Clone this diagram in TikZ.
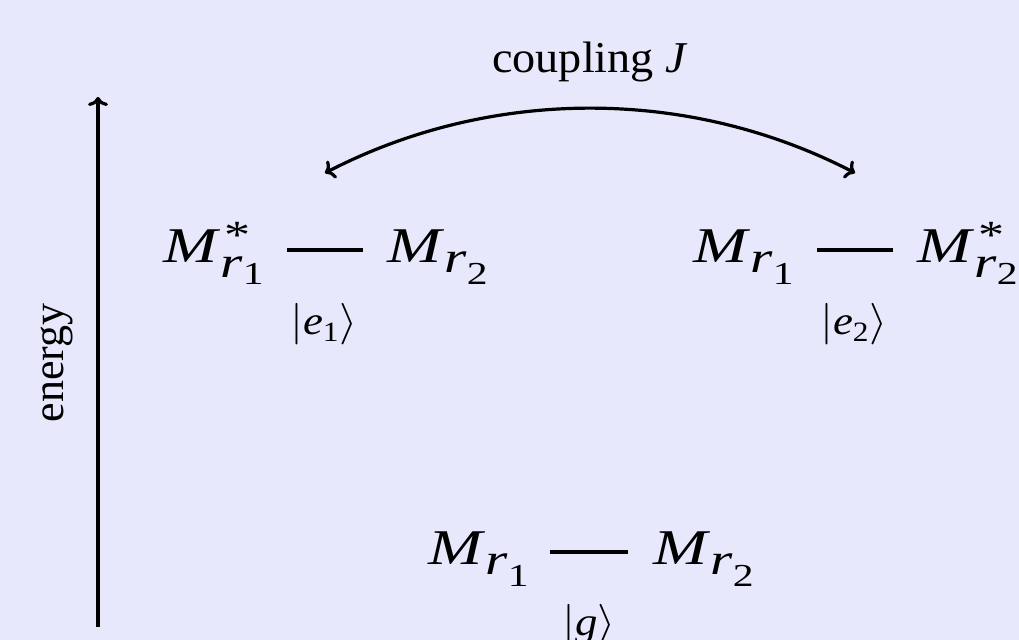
\documentclass[tikz,border=0pt]{standalone}
\usepackage{fontspec}
\setmainfont{Liberation Serif}
\usepackage{graphicx}
\usepackage{amsmath}
\DeclareMathSizes{20}{20}{14}{10}
\usetikzlibrary{arrows.meta}
\definecolor{bg}{HTML}{E8E8FC}
\newcommand{\rsub}[2]{\raisebox{#2}{\fontsize{22}{26}\selectfont\textit{r}\raisebox{#1}{\fontsize{16}{19}\selectfont}}}
\newcommand{\Mpl}[1]{\scalebox{1.3}[1]{\textit{M}\raisebox{-5pt}{\fontsize{22}{26}\selectfont\textit{r}\raisebox{-6pt}{\fontsize{16}{19}\selectfont #1}}}}
\newcommand{\Mst}[1]{\scalebox{1.3}[1]{\textit{M}\rlap{\hspace{1.5pt}\raisebox{7pt}{\fontsize{20}{24}\selectfont *}}\raisebox{-7.5pt}{\fontsize{22}{26}\selectfont\textit{r}\raisebox{-3.5pt}{\fontsize{16}{19}\selectfont #1}}}}
\newcommand{\kt}[1]{\scalebox{1.12}[1]{$|#1\rangle$}}
\begin{document}
\begin{tikzpicture}[x=0.5pt,y=-0.5pt,
  state/.style={inner sep=0pt, anchor=base west, font=\fontsize{25}{30}\selectfont},
  lbl/.style={inner sep=0pt, anchor=base, font=\fontsize{20}{24}\selectfont},
  txt/.style={inner sep=0pt, font=\fontsize{22}{26}\selectfont},
  bond/.style={line width=1.8pt},
  conn/.style={line width=1.6pt, arrows={To[length=4.5pt,width=10pt]-To[length=4.5pt,width=10pt]}},
  axis/.style={line width=1.6pt, arrows={-To[length=4.5pt,width=10pt]}}
]
\useasboundingbox (0,0) rectangle (1019,640);
\fill[bg] (0,0) rectangle (1019,640);

% energy axis
\coordinate (eb) at (98,627);
\coordinate (et) at (98,97);
\draw[axis] (eb) -- (et);
\node[txt, rotate=90] (energy) at (57,363) {energy};

% coupling
\node[txt, anchor=base] (coup) at (590,73) {\scalebox{1.05}[1]{coupling \textit{J}}};
\coordinate (jl) at (325,173);
\coordinate (jr) at (855,173);
\draw[conn] (jl) .. controls +(166,-86) and +(-166,-86) .. (jr);

% excited state e1
\node[state] (A1) at (163,263) {\Mst{1}};
\node[state] (A2) at (387,263) {\Mpl{2}};
\draw[bond] ([xshift=-50pt,yshift=6.5pt]A2.base west) -- ([xshift=-12pt,yshift=6.5pt]A2.base west);
\node[lbl] (e1) at (324,335) {\kt{\text{\textit{e}}_{\text{1}}}};

% excited state e2
\node[state] (B1) at (693,263) {\Mpl{1}};
\node[state] (B2) at (917,263) {\Mst{2}};
\draw[bond] ([xshift=-50pt,yshift=6.5pt]B2.base west) -- ([xshift=-12pt,yshift=6.5pt]B2.base west);
\node[lbl] (e2) at (854,335) {\kt{\text{\textit{e}}_{\text{2}}}};

% ground state
\node[state] (C1) at (428,565) {\Mpl{1}};
\node[state] (C2) at (653,565) {\Mpl{2}};
\draw[bond] ([xshift=-51.5pt,yshift=6.5pt]C2.base west) -- ([xshift=-12.5pt,yshift=6.5pt]C2.base west);
\node[lbl] (g) at (589,636) {\kt{\text{\textit{g}}}};
\end{tikzpicture}
\end{document}
